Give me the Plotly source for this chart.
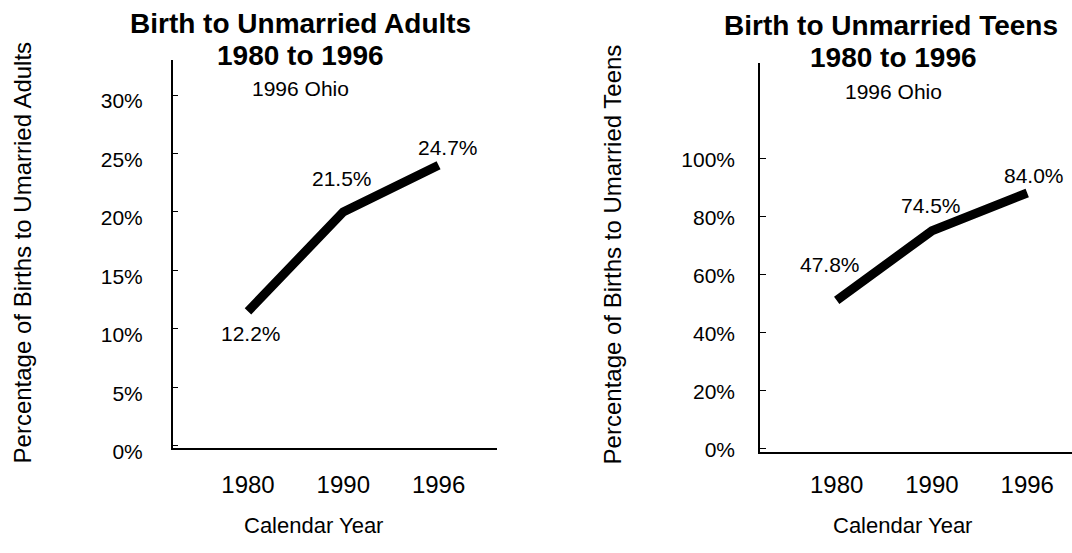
import plotly.graph_objects as go

W, H = 1072, 553

years = ["1980", "1990", "1996"]
adults_values = [11.5, 20.0, 24.0]
adults_labels = ["12.2%", "21.5%", "24.7%"]
teens_values = [51.0, 75.0, 88.0]
teens_labels = ["47.8%", "74.5%", "84.0%"]

adults_ticks = [0, 5, 10, 15, 20, 25, 30]
teens_ticks = [0, 20, 40, 60, 80, 100]

FONT = "Liberation Sans, Arial, Helvetica, sans-serif"


def px_x(p):
    return p / W


def px_y(p):
    return 1 - p / H


fig = go.Figure()

fig.add_trace(go.Scatter(x=years, y=adults_values, mode="lines",
                         line=dict(color="black", width=9),
                         xaxis="x", yaxis="y", showlegend=False, hoverinfo="skip"))
fig.add_trace(go.Scatter(x=years, y=teens_values, mode="lines",
                         line=dict(color="black", width=9),
                         xaxis="x2", yaxis="y2", showlegend=False, hoverinfo="skip"))

axis_common = dict(showline=True, linecolor="black", linewidth=1.5,
                   showgrid=False, zeroline=False)

fig.update_layout(
    width=W, height=H,
    margin=dict(l=0, r=0, t=0, b=0),
    paper_bgcolor="white", plot_bgcolor="white",
    font=dict(family=FONT, color="black"),
    xaxis=dict(axis_common, type="category", domain=[px_x(172.7), px_x(496.7)],
               range=[-0.79, 2.61], anchor="y", ticks="",
               tickfont=dict(size=24), ticklabelstandoff=14),
    yaxis=dict(axis_common, domain=[px_y(460.5), px_y(61.7)], range=[-0.2, 33.0],
               anchor="x", tickvals=adults_ticks,
               ticktext=[f"{v}%" for v in adults_ticks],
               ticks="inside", ticklen=6, tickcolor="black",
               tickfont=dict(size=21), ticklabelstandoff=24, ticklabelshift=6),
    xaxis2=dict(axis_common, type="category", domain=[px_x(760), 1.0],
                range=[-0.805, 2.47], anchor="y2", ticks="",
                tickfont=dict(size=24), ticklabelstandoff=10),
    yaxis2=dict(axis_common, domain=[px_y(465), px_y(65)], range=[-1.34, 132.7],
                anchor="x2", tickvals=teens_ticks,
                ticktext=[f"{v}%" for v in teens_ticks],
                ticks="inside", ticklen=6, tickcolor="black",
                tickfont=dict(size=21), ticklabelstandoff=19, ticklabelshift=1),
)

ann = []


def text(x, y, s, size, bold=False, angle=0):
    ann.append(dict(x=px_x(x), y=px_y(y), xref="paper", yref="paper",
                    text=f"<b>{s}</b>" if bold else s, showarrow=False,
                    textangle=angle, xanchor="center", yanchor="middle",
                    font=dict(size=size, family=FONT, color="black")))


# Left panel texts
text(300, 24.5, "Birth to Unmarried Adults", 28, bold=True)
text(300, 57.5, "1980 to 1996", 28, bold=True)
text(300, 91, "1996 Ohio", 21)
text(22.5, 260, "Percentage of Births to Umarried Adults", 24, angle=-90)
text(313.7, 540, "Calendar Year", 22)

# Right panel texts
text(891, 26, "Birth to Unmarried Teens", 28, bold=True)
text(893, 59, "1980 to 1996", 28, bold=True)
text(893.6, 94, "1996 Ohio", 21)
text(612, 261.5, "Percentage of Births to Umarried Teens", 24, angle=-90)
text(902.7, 540, "Calendar Year", 22)

# Data labels (anchored on the data points, nudged in pixels)
adults_shift = [(3, -22), (-1, 33), (9, 18)]
for i, (v, lab, (dx, dy)) in enumerate(zip(adults_values, adults_labels, adults_shift)):
    ann.append(dict(x=i, y=v, xref="x", yref="y", text=lab, showarrow=False,
                    xshift=dx, yshift=dy, font=dict(size=21, family=FONT, color="black")))

teens_shift = [(-7, 36), (-1, 25), (7, 18)]
for i, (v, lab, (dx, dy)) in enumerate(zip(teens_values, teens_labels, teens_shift)):
    ann.append(dict(x=i, y=v, xref="x2", yref="y2", text=lab, showarrow=False,
                    xshift=dx, yshift=dy, font=dict(size=21, family=FONT, color="black")))

fig.update_layout(annotations=ann)

fig.write_html("out.html", config={"displayModeBar": False},
               post_script="document.body.style.margin='0';"
                           "document.body.style.overflow='hidden';")
